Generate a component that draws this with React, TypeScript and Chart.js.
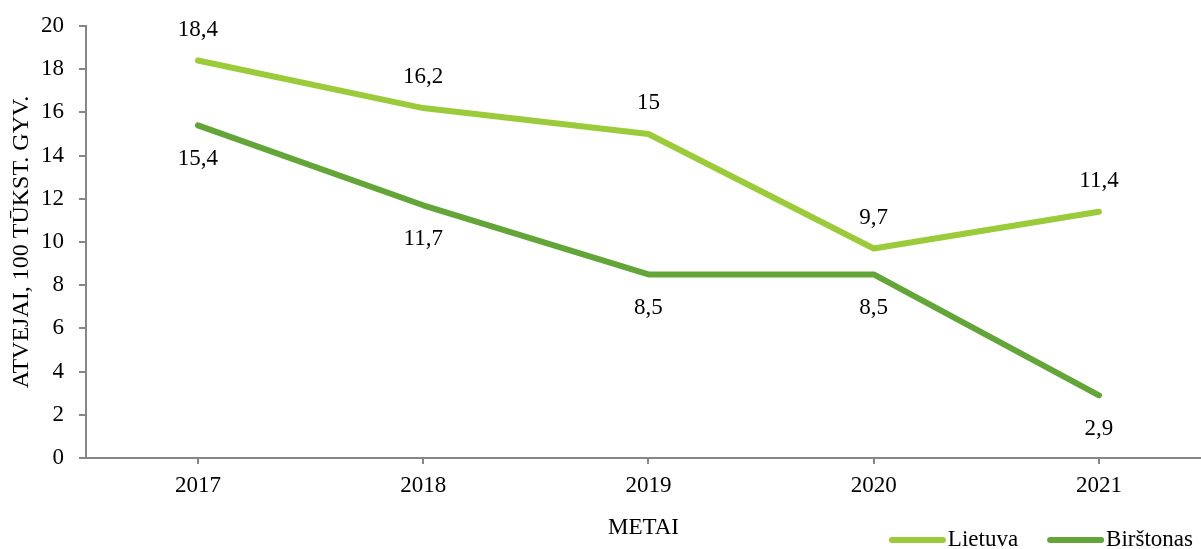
import React, { useEffect, useRef } from "react";
import { Chart, registerables } from "chart.js";

Chart.register(...registerables);

const years = [2017, 2018, 2019, 2020, 2021];
const lietuva = [18.4, 16.2, 15, 9.7, 11.4];
const birstonas = [15.4, 11.7, 8.5, 8.5, 2.9];
const seriesNames = ["Lietuva", "Birštonas"];
const yTitle = "ATVEJAI, 100 TŪKST. GYV.";
const xTitle = "METAI";

const FONT = "'Liberation Serif', 'Times New Roman', serif";
const FS = 23;
const LIGHT = "#9BCB3B";
const DARK = "#64A53A";
const AXIS = "#878787";

const fmt = (v: number) => String(v).replace(".", ",");

const labelsPlugin = {
  id: "valueLabels",
  afterDatasetsDraw(chart: any) {
    const ctx = chart.ctx;
    ctx.save();
    ctx.font = `${FS}px ${FONT}`;
    ctx.fillStyle = "#000";
    ctx.textAlign = "center";
    ctx.textBaseline = "middle";
    chart.data.datasets.forEach((ds: any, i: number) => {
      const meta = chart.getDatasetMeta(i);
      meta.data.forEach((pt: any, j: number) => {
        const v = ds.data[j].y;
        const off = i === 0 ? -31 : 34;
        ctx.fillText(fmt(v), pt.x, pt.y + off);
      });
    });
    ctx.restore();
  },
};

const legendPlugin = {
  id: "customLegend",
  afterDraw(chart: any) {
    const ctx = chart.ctx;
    ctx.save();
    ctx.font = `${FS}px ${FONT}`;
    ctx.textBaseline = "middle";
    ctx.textAlign = "left";
    const y = 540;
    const lineW = 51;
    const gapText = 5;
    const gapItem = 29;
    let x = chart.width - 8;
    const colors = [LIGHT, DARK];
    const items = seriesNames.map((n, i) => ({ n, c: colors[i], w: ctx.measureText(n).width }));
    const positions: number[] = [];
    for (let i = items.length - 1; i >= 0; i--) {
      x -= items[i].w;
      positions[i] = x;
      x -= gapText + lineW + 3;
      x -= gapItem;
    }
    items.forEach((it, i) => {
      const tx = positions[i];
      const lx1 = tx - gapText - lineW;
      ctx.strokeStyle = it.c;
      ctx.lineWidth = 6;
      ctx.lineCap = "round";
      ctx.beginPath();
      ctx.moveTo(lx1, y);
      ctx.lineTo(tx - gapText, y);
      ctx.stroke();
      ctx.fillStyle = "#000";
      ctx.fillText(it.n, tx, y);
    });
    ctx.restore();
  },
};

export default function App() {
  const ref = useRef<HTMLCanvasElement | null>(null);
  useEffect(() => {
    if (!ref.current) return;
    const chart = new Chart(ref.current, {
      type: "line",
      data: {
        datasets: [
          {
            label: seriesNames[0],
            data: years.map((x, i) => ({ x, y: lietuva[i] })),
            borderColor: LIGHT,
            backgroundColor: LIGHT,
            borderWidth: 6,
            borderCapStyle: "round",
            borderJoinStyle: "round",
            pointRadius: 0,
            tension: 0,
          },
          {
            label: seriesNames[1],
            data: years.map((x, i) => ({ x, y: birstonas[i] })),
            borderColor: DARK,
            backgroundColor: DARK,
            borderWidth: 6,
            borderCapStyle: "round",
            borderJoinStyle: "round",
            pointRadius: 0,
            tension: 0,
          },
        ],
      },
      options: {
        animation: false,
        responsive: true,
        maintainAspectRatio: false,
        layout: { padding: { top: 26, right: 0, bottom: 7, left: 0 } },
        plugins: {
          legend: { display: false },
          tooltip: { enabled: false },
        },
        scales: {
          x: {
            type: "linear",
            min: 2016.503,
            max: 2021.453,
            afterBuildTicks: (scale: any) => {
              scale.ticks = years.map((v) => ({ value: v }));
            },
            afterFit: (scale: any) => {
              scale.height = 84;
              scale.paddingLeft = 0;
              scale.paddingRight = 0;
            },
            ticks: {
              callback: (v: any) => String(v),
              font: { family: FONT, size: FS },
              color: "#000",
              padding: 8,
              maxRotation: 0,
            },
            grid: {
              drawOnChartArea: false,
              drawTicks: true,
              tickLength: 6,
              color: AXIS,
              lineWidth: 2,
            },
            border: { color: AXIS, width: 2 },
            title: {
              display: true,
              text: xTitle,
              font: { family: FONT, size: FS },
              color: "#000",
              padding: { top: 0, bottom: 0 },
            },
          },
          y: {
            min: 0,
            max: 20,
            afterFit: (scale: any) => {
              scale.width = 86;
              scale.paddingTop = 0;
              scale.paddingBottom = 0;
            },
            ticks: {
              stepSize: 2,
              font: { family: FONT, size: FS },
              color: "#000",
              padding: 15,
            },
            grid: {
              drawOnChartArea: false,
              drawTicks: true,
              tickLength: 7,
              color: AXIS,
              lineWidth: 2,
            },
            border: { color: AXIS, width: 2 },
            title: {
              display: true,
              text: yTitle,
              font: { family: FONT, size: 24 },
              color: "#000",
              padding: { top: 7, bottom: 0 },
            },
          },
        },
      },
      plugins: [labelsPlugin, legendPlugin],
    } as any);
    return () => chart.destroy();
  }, []);
  return (
    <div style={{ position: "fixed", left: 0, top: 0, width: 1201, height: 549, background: "#fff" }}>
      <canvas ref={ref} />
    </div>
  );
}
